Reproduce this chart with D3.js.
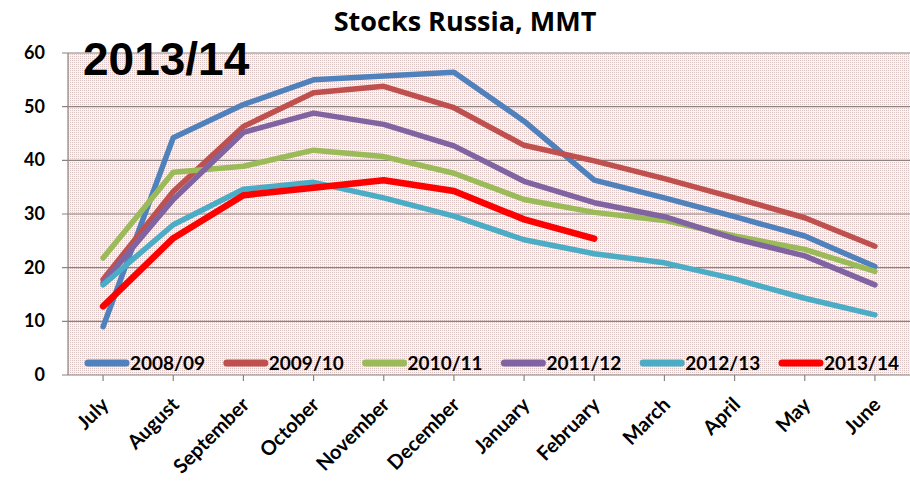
<!DOCTYPE html>
<html>
<head>
<meta charset="utf-8">
<script src="https://cdn.jsdelivr.net/npm/d3@7"></script>
<style>
  body { margin: 0; background: #fff; }
  .lbl { font-family: Lato, "Open Sans", sans-serif; font-weight: bold; fill: #000; }
</style>
</head>
<body>
<div id="chart"></div>
<script>
const months = ["July", "August", "September", "October", "November", "December",
    "January", "February", "March", "April", "May", "June"];
const seasons = ["2008/09", "2009/10", "2010/11", "2011/12", "2012/13", "2013/14"];
const colors = ["#4F81BD", "#C0504D", "#9BBB59", "#8064A2", "#4BACC6", "#FF0000"];
const yTicks = [0, 10, 20, 30, 40, 50, 60];

const s0809 = [9.0, 44.2, 50.4, 55.0, 55.7, 56.4, 47.3, 36.3, 33.0, 29.5, 25.9, 20.2];
const s0910 = [17.8, 34.2, 46.3, 52.6, 53.8, 49.8, 42.8, 39.9, 36.6, 33.0, 29.3, 24.0];
const s1011 = [21.8, 37.8, 38.9, 41.9, 40.7, 37.6, 32.7, 30.3, 28.8, 25.9, 23.4, 19.3];
const s1112 = [17.2, 32.7, 45.2, 48.8, 46.7, 42.7, 36.1, 32.1, 29.5, 25.4, 22.2, 16.8];
const s1213 = [16.8, 28.0, 34.6, 35.9, 33.0, 29.6, 25.2, 22.6, 20.9, 17.9, 14.3, 11.2];
const s1314 = [12.8, 25.5, 33.5, 34.9, 36.3, 34.3, 29.0, 25.4];

const series = [s0809, s0910, s1011, s1112, s1213, s1314];

const W = 910, H = 484;
const pL = 68, pR = 910, pT = 53, pB = 375;

const svg = d3.select("#chart").append("svg")
    .attr("width", W)
    .attr("height", H);

// dotted background pattern
const pat = svg.append("defs").append("pattern")
    .attr("id", "dots")
    .attr("width", 2).attr("height", 2)
    .attr("patternUnits", "userSpaceOnUse");
pat.append("rect").attr("width", 2).attr("height", 2).attr("fill", "#f9f3f3");
pat.append("rect").attr("width", 1).attr("height", 1).attr("fill", "#d8c2c2");

const x = d3.scaleBand()
    .domain(months)
    .range([pL, pR]);

const y = d3.scaleLinear()
    .domain([0, 60])
    .range([pB, pT]);

svg.append("rect")
    .attr("x", pL).attr("y", pT)
    .attr("width", pR - pL).attr("height", pB - pT)
    .attr("fill", "url(#dots)");

// gridlines + y ticks
svg.append("g")
    .selectAll("line")
    .data(yTicks.filter(d => d > 0))
    .enter().append("line")
    .attr("x1", pL - 6).attr("x2", pR)
    .attr("y1", d => y(d)).attr("y2", d => y(d))
    .attr("stroke", "#8c8282").attr("stroke-width", 1.2);

svg.append("g")
    .selectAll("text")
    .data(yTicks)
    .enter().append("text")
    .attr("class", "lbl")
    .attr("x", 45)
    .attr("y", d => y(d) + 6)
    .attr("text-anchor", "end")
    .style("font-size", "18px")
    .text(d => d);

// axes lines
svg.append("line")
    .attr("x1", pL).attr("x2", pL)
    .attr("y1", pT).attr("y2", pB)
    .attr("stroke", "#8c8282").attr("stroke-width", 1.2);

svg.append("line")
    .attr("x1", pL - 6).attr("x2", pR)
    .attr("y1", pB).attr("y2", pB)
    .attr("stroke", "#8c8282").attr("stroke-width", 1.2);

// x ticks at category centres
svg.append("g")
    .selectAll("line")
    .data(months)
    .enter().append("line")
    .attr("x1", d => x(d) + x.bandwidth() / 2)
    .attr("x2", d => x(d) + x.bandwidth() / 2)
    .attr("y1", pB).attr("y2", pB + 6)
    .attr("stroke", "#8c8282").attr("stroke-width", 1.2);

svg.append("g")
    .selectAll("text")
    .data(months)
    .enter().append("text")
    .attr("class", "lbl")
    .attr("text-anchor", "end")
    .style("font-size", "20px")
    .attr("transform", d => `translate(${x(d) + x.bandwidth() / 2 + 7}, 406) rotate(-45)`)
    .text(d => d);

// lines
const line = d3.line()
    .x((d, i) => x(months[i]) + x.bandwidth() / 2)
    .y(d => y(d));

svg.append("g")
    .selectAll("path")
    .data(series)
    .enter().append("path")
    .attr("d", d => line(d))
    .attr("fill", "none")
    .attr("stroke", (d, i) => colors[i])
    .attr("stroke-width", (d, i) => i === 5 ? 6.5 : 5.5)
    .attr("stroke-linejoin", "round")
    .attr("stroke-linecap", "round");

// legend
const leg = svg.append("g")
    .selectAll("g")
    .data(seasons)
    .enter().append("g")
    .attr("transform", (d, i) => `translate(${88 + i * 138.8}, 363)`);

leg.append("line")
    .attr("x1", 0).attr("x2", 38)
    .attr("y1", 0).attr("y2", 0)
    .attr("stroke", (d, i) => colors[i])
    .attr("stroke-width", 7)
    .attr("stroke-linecap", "round");

leg.append("text")
    .attr("class", "lbl")
    .attr("x", 42)
    .attr("y", 7)
    .style("font-size", "19px")
    .text(d => d);

// title
svg.append("text")
    .attr("x", 465).attr("y", 31)
    .attr("text-anchor", "middle")
    .style("font-family", "'Open Sans', sans-serif")
    .style("font-weight", "bold")
    .style("font-size", "27px")
    .text("Stocks Russia, MMT");

svg.append("text")
    .attr("x", 83).attr("y", 75)
    .style("font-family", "'Liberation Sans', Arial, sans-serif")
    .style("font-weight", "bold")
    .style("font-size", "46px")
    .text("2013/14");
</script>
</body>
</html>
